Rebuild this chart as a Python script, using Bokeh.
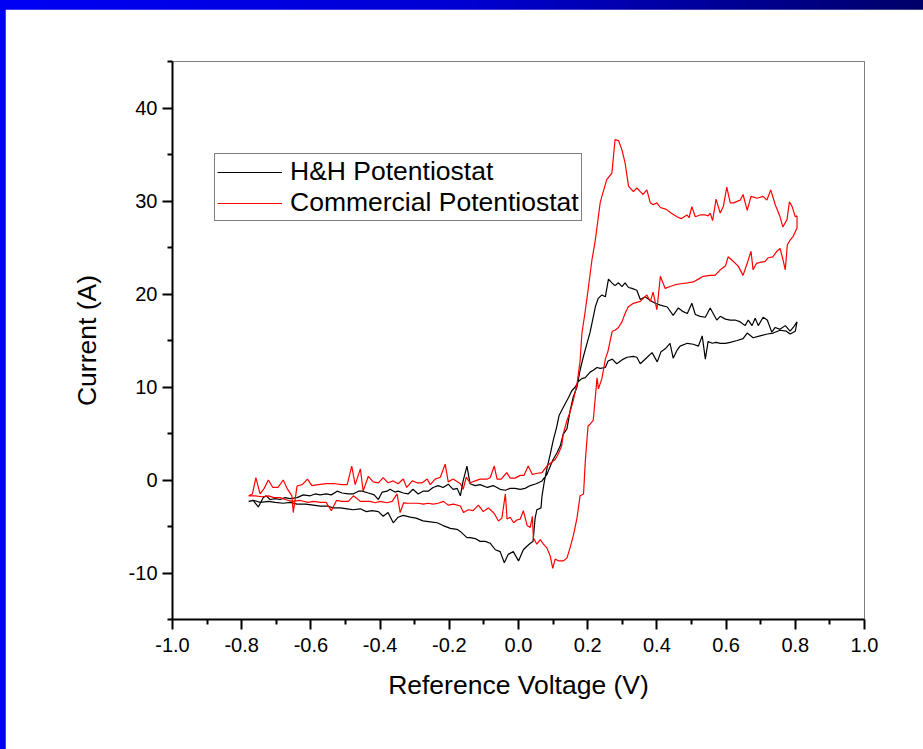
from bokeh.plotting import figure
from bokeh.models import FixedTicker, PrintfTickFormatter, Legend, LegendItem, Range1d
from bokeh.layouts import column
from bokeh.embed import file_html
from bokeh.resources import INLINE

# ---------------- data ----------------
x_ticks = [-1.0, -0.8, -0.6, -0.4, -0.2, 0.0, 0.2, 0.4, 0.6, 0.8, 1.0]
x_minor = [-0.9, -0.7, -0.5, -0.3, -0.1, 0.1, 0.3, 0.5, 0.7, 0.9]
y_ticks = [-10, 0, 10, 20, 30, 40]
y_minor = [-15, -5, 5, 15, 25, 35, 45]

series_names = ["H&H Potentiostat", "Commercial Potentiostat"]

# H&H potentiostat, forward sweep (V, A)
hh_fwd_v = [-0.780, -0.767, -0.752, -0.738, -0.729, -0.718, -0.703, -0.689, -0.675, -0.660,
            -0.640, -0.622, -0.602, -0.588, -0.573, -0.556, -0.541, -0.524, -0.510, -0.492,
            -0.478, -0.463, -0.452, -0.434, -0.417, -0.405, -0.394, -0.380, -0.371, -0.357,
            -0.348, -0.333, -0.319, -0.305, -0.290, -0.276, -0.261, -0.247, -0.232, -0.218,
            -0.203, -0.189, -0.177, -0.168, -0.160, -0.149, -0.140, -0.125, -0.111, -0.090,
            -0.073, -0.053, -0.038, -0.024, -0.010, 0.005, 0.019, 0.034, 0.051, 0.068,
            0.082, 0.092, 0.100, 0.111, 0.121, 0.129, 0.140, 0.149, 0.158, 0.169,
            0.178, 0.187, 0.198, 0.207, 0.222, 0.230, 0.241, 0.251, 0.260, 0.270,
            0.279, 0.289, 0.299, 0.308, 0.318, 0.328, 0.342, 0.352, 0.366, 0.381,
            0.395, 0.410, 0.430, 0.447, 0.462, 0.476, 0.488, 0.501, 0.511, 0.525,
            0.540, 0.554, 0.573, 0.583, 0.598, 0.612, 0.626, 0.641, 0.655, 0.664,
            0.675, 0.684, 0.693, 0.707, 0.719, 0.732, 0.742, 0.756, 0.771, 0.785,
            0.794, 0.805]
hh_fwd_i = [-2.3, -2.2, -2.9, -1.9, -1.7, -2.1, -2.0, -2.1, -1.9, -2.0,
            -1.9, -1.6, -1.7, -1.5, -1.6, -1.5, -1.6, -1.2, -1.4, -1.5,
            -1.5, -1.2, -1.2, -1.4, -1.6, -2.1, -1.3, -1.2, -1.0, -1.3,
            -1.2, -1.4, -1.5, -1.0, -1.5, -1.2, -1.2, -0.8, -0.6, -0.8,
            -0.45, -1.0, -0.9, -1.7, -0.1, 1.5, -0.4, -0.6, -0.5, -0.8,
            -0.6, -1.0, -1.1, -0.9, -0.9, -1.0, -0.9, -0.6, -0.4, -0.1,
            0.6, 1.5, 2.2, 2.9, 3.7, 4.9, 5.5, 7.4, 8.9, 10.0,
            11.8, 13.2, 14.7, 15.9, 18.6, 19.5, 19.9, 19.7, 21.6, 21.2,
            20.9, 21.2, 20.8, 21.2, 20.7, 20.6, 20.4, 19.4, 19.7, 19.3,
            19.0, 18.8, 18.6, 17.7, 18.5, 18.1, 17.9, 19.0, 17.8, 17.6,
            17.5, 18.5, 17.2, 17.6, 17.3, 17.2, 17.2, 17.0, 16.6, 17.2,
            16.6, 17.4, 16.6, 17.5, 17.2, 15.9, 16.4, 16.2, 16.6, 16.0,
            16.4, 17.0]

# H&H potentiostat, reverse sweep
hh_rev_v = [0.800, 0.785, 0.774, 0.756, 0.736, 0.719, 0.698, 0.678, 0.661, 0.649,
            0.632, 0.612, 0.598, 0.583, 0.571, 0.560, 0.548, 0.540, 0.531, 0.520,
            0.505, 0.488, 0.467, 0.459, 0.447, 0.438, 0.424, 0.412, 0.401, 0.386,
            0.372, 0.352, 0.342, 0.332, 0.314, 0.303, 0.284, 0.271, 0.259, 0.251,
            0.236, 0.227, 0.216, 0.207, 0.193, 0.183, 0.173, 0.164, 0.154, 0.145,
            0.135, 0.125, 0.117, 0.111, 0.100, 0.092, 0.082, 0.074, 0.068, 0.065,
            0.053, 0.048, 0.042, 0.034, 0.022, 0.014, 0.000, -0.015, -0.030, -0.041,
            -0.053, -0.067, -0.082, -0.096, -0.111, -0.125, -0.140, -0.149, -0.166, -0.178,
            -0.197, -0.218, -0.235, -0.255, -0.276, -0.296, -0.313, -0.333, -0.348, -0.362,
            -0.377, -0.391, -0.405, -0.423, -0.440, -0.457, -0.478, -0.495, -0.515, -0.535,
            -0.553, -0.573, -0.593, -0.616, -0.640, -0.660, -0.680, -0.703, -0.723, -0.746,
            -0.764, -0.780]
hh_rev_i = [16.0, 15.7, 16.0, 16.1, 15.8, 15.7, 15.5, 15.3, 15.8, 15.2,
            15.0, 14.8, 14.7, 14.7, 14.8, 14.7, 14.9, 13.0, 15.5, 14.4,
            14.6, 14.7, 14.4, 14.0, 13.1, 14.7, 14.1, 13.8, 12.7, 13.7,
            13.2, 12.5, 13.2, 13.3, 13.2, 13.0, 12.5, 13.0, 12.8, 12.1,
            12.0, 12.1, 11.8, 11.6, 11.0, 10.9, 10.6, 10.0, 9.6, 8.9,
            8.2, 7.5, 6.9, 5.8, 4.2, 2.8, 1.2, -0.3, -1.7, -3.0,
            -3.2, -4.1, -6.6, -6.8, -7.2, -7.5, -8.7, -7.7, -8.0, -8.9,
            -7.7, -7.5, -6.8, -6.6, -6.6, -6.3, -6.2, -6.2, -5.6, -5.3,
            -5.2, -4.9, -4.6, -4.5, -4.4, -4.1, -4.0, -3.8, -4.0, -4.6,
            -3.5, -3.9, -3.4, -3.3, -3.4, -3.1, -3.2, -3.1, -3.0, -3.0,
            -2.8, -2.8, -2.7, -2.6, -2.6, -2.4, -2.5, -2.4, -2.3, -2.4,
            -2.2, -2.3]

# Commercial potentiostat, forward sweep
com_fwd_v = [-0.780, -0.769, -0.759, -0.747, -0.735, -0.723, -0.710, -0.695, -0.680, -0.669,
             -0.655, -0.651, -0.640, -0.625, -0.610, -0.597, -0.579, -0.556, -0.530, -0.510,
             -0.495, -0.482, -0.472, -0.457, -0.449, -0.434, -0.420, -0.405, -0.391, -0.377,
             -0.362, -0.348, -0.333, -0.323, -0.307, -0.293, -0.278, -0.264, -0.255, -0.241,
             -0.226, -0.212, -0.203, -0.189, -0.168, -0.160, -0.151, -0.140, -0.125, -0.111,
             -0.090, -0.082, -0.070, -0.062, -0.050, -0.034, -0.024, -0.010, 0.005, 0.016,
             0.028, 0.040, 0.051, 0.068, 0.082, 0.092, 0.106, 0.115, 0.125, 0.129,
             0.140, 0.149, 0.158, 0.169, 0.178, 0.183, 0.193, 0.201, 0.212, 0.222,
             0.236, 0.241, 0.255, 0.270, 0.279, 0.289, 0.299, 0.308, 0.318, 0.332,
             0.342, 0.352, 0.360, 0.371, 0.381, 0.389, 0.400, 0.410, 0.427, 0.441,
             0.458, 0.470, 0.487, 0.493, 0.501, 0.511, 0.525, 0.540, 0.548, 0.554,
             0.561, 0.571, 0.583, 0.592, 0.602, 0.612, 0.621, 0.641, 0.649, 0.661,
             0.672, 0.690, 0.707, 0.718, 0.729, 0.742, 0.756, 0.764, 0.776, 0.783,
             0.791, 0.800, 0.805]
com_fwd_i = [-1.7, -1.5, 0.25, -1.5, -0.9, 0.0, -0.8, -0.8, 0.0, -0.9,
             -1.7, -3.5, -0.65, -0.5, 0.1, -0.6, -0.5, -0.4, -0.4, -0.5,
             -0.5, 1.5, -0.5, 1.2, -1.2, 0.4, -0.2, -0.3, 0.25, -0.3,
             -0.1, -0.4, 0.1, -0.8, -0.1, -0.3, -0.3, 0.1, -0.5, 0.1,
             0.3, 1.7, -0.2, 0.1, -0.4, -1.0, 0.3, -0.3, -0.1, 0.1,
             0.1, 0.25, 1.5, 0.1, 0.1, 0.8, 0.2, 0.2, 0.5, 0.5,
             1.5, 0.6, 0.7, 0.8, 1.5, 1.8, 2.2, 2.8, 3.7, 4.9,
             6.4, 7.3, 8.5, 10.3, 12.8, 15.7, 18.2, 20.4, 23.6, 25.8,
             29.8, 30.5, 32.3, 33.0, 36.6, 36.5, 35.5, 34.1, 31.6, 31.0,
             31.4, 31.0, 30.7, 31.2, 29.8, 29.6, 29.8, 29.3, 29.1, 28.7,
             28.3, 28.1, 28.5, 28.2, 29.4, 28.3, 28.5, 28.5, 28.4, 28.7,
             27.9, 30.2, 28.7, 29.4, 31.5, 29.8, 29.8, 30.1, 30.7, 29.0,
             30.5, 30.3, 30.5, 30.1, 31.2, 29.6, 28.3, 27.2, 28.0, 29.9,
             29.4, 28.3, 28.4]

# Commercial potentiostat, reverse sweep
com_rev_v = [0.805, 0.794, 0.785, 0.777, 0.771, 0.765, 0.756, 0.747, 0.735, 0.722,
             0.713, 0.698, 0.688, 0.678, 0.672, 0.661, 0.649, 0.635, 0.621, 0.606,
             0.598, 0.583, 0.568, 0.554, 0.534, 0.520, 0.505, 0.488, 0.470, 0.453,
             0.438, 0.424, 0.410, 0.400, 0.389, 0.381, 0.371, 0.360, 0.352, 0.332,
             0.317, 0.308, 0.299, 0.289, 0.279, 0.271, 0.265, 0.259, 0.251, 0.241,
             0.231, 0.227, 0.216, 0.207, 0.201, 0.193, 0.188, 0.178, 0.169, 0.159,
             0.149, 0.140, 0.129, 0.116, 0.106, 0.099, 0.092, 0.082, 0.072, 0.063,
             0.053, 0.043, 0.040, 0.034, 0.025, 0.014, 0.005, -0.005, -0.014, -0.024,
             -0.033, -0.038, -0.048, -0.058, -0.070, -0.087, -0.102, -0.116, -0.131, -0.145,
             -0.159, -0.168, -0.188, -0.203, -0.217, -0.232, -0.247, -0.261, -0.275, -0.290,
             -0.304, -0.319, -0.332, -0.342, -0.351, -0.365, -0.380, -0.400, -0.414, -0.429,
             -0.443, -0.457, -0.477, -0.492, -0.510, -0.526, -0.541, -0.556, -0.573, -0.592,
             -0.608, -0.631, -0.654, -0.675, -0.689, -0.706, -0.723, -0.741, -0.761, -0.780]
com_rev_i = [27.1, 26.2, 25.8, 25.3, 22.6, 23.6, 24.9, 24.6, 24.0, 23.9,
             23.5, 23.4, 23.3, 22.6, 24.6, 23.3, 22.0, 23.0, 23.5, 24.0,
             23.0, 22.6, 22.0, 22.0, 21.9, 21.6, 21.3, 21.2, 21.1, 21.0,
             20.8, 20.6, 21.9, 18.3, 20.2, 19.2, 19.9, 19.5, 19.2, 19.0,
             18.6, 17.9, 17.0, 16.4, 16.1, 16.0, 15.0, 13.9, 13.0, 10.9,
             9.8, 11.0, 6.4, 6.0, 5.8, 2.0, -1.5, -1.7, -4.1, -5.9,
             -7.3, -8.4, -8.7, -8.7, -8.5, -9.5, -8.2, -7.3, -6.9, -6.4,
             -6.9, -6.2, -3.9, -5.1, -4.9, -3.3, -4.2, -4.3, -4.6, -4.0,
             -4.2, -1.5, -4.1, -4.4, -3.6, -3.0, -3.4, -2.7, -3.3, -3.2,
             -3.5, -2.8, -2.6, -2.7, -2.3, -2.5, -2.6, -2.5, -2.6, -2.5,
             -2.5, -2.5, -2.45, -3.5, -1.5, -2.3, -2.45, -2.3, -2.45, -2.3,
             -2.3, -2.3, -1.7, -2.3, -2.3, -2.2, -3.3, -2.4, -2.4, -2.3,
             -2.4, -2.2, -2.3, -2.1, -1.9, -1.9, -1.7, -1.8, -1.7, -1.7]

hh_v = hh_fwd_v + hh_rev_v
hh_i = hh_fwd_i + hh_rev_i
com_v = com_fwd_v + com_rev_v
com_i = com_fwd_i + com_rev_i

# ---------------- figure ----------------
FONT = "Liberation Sans"

p = figure(width=918, height=740, output_backend="svg", toolbar_location=None,
           x_range=Range1d(-1.0, 1.0), y_range=Range1d(-15, 45),
           min_border_left=167, min_border_right=59, min_border_top=52, min_border_bottom=130,
           margin=(9, 0, 0, 5))
p.background_fill_color = "white"
p.border_fill_color = "white"
p.outline_line_color = "#7f7f7f"
p.outline_line_width = 1
p.grid.visible = False

r_hh = p.line(hh_v, hh_i, line_color="black", line_width=1.2)
r_com = p.line(com_v, com_i, line_color="#ff0000", line_width=1.2)

p.xaxis.ticker = FixedTicker(ticks=x_ticks, minor_ticks=x_minor)
p.yaxis.ticker = FixedTicker(ticks=y_ticks, minor_ticks=y_minor)
p.xaxis.formatter = PrintfTickFormatter(format="%.1f")
p.yaxis.formatter = PrintfTickFormatter(format="%d")
p.xaxis.axis_label = "Reference Voltage (V)"
p.yaxis.axis_label = "Current (A)"

for ax in (p.xaxis[0], p.yaxis[0]):
    ax.axis_line_width = 2
    ax.axis_line_color = "black"
    ax.major_tick_line_width = 2
    ax.minor_tick_line_width = 2
    ax.major_tick_line_color = "black"
    ax.minor_tick_line_color = "black"
    ax.major_tick_out = 10
    ax.major_tick_in = 0
    ax.minor_tick_out = 5
    ax.minor_tick_in = 0
    ax.major_label_text_font = FONT
    ax.major_label_text_font_size = "20px"
    ax.major_label_text_color = "black"
    ax.axis_label_text_font = FONT
    ax.axis_label_text_font_size = "26.5px"
    ax.axis_label_text_font_style = "normal"
    ax.axis_label_text_color = "black"

p.xaxis.major_label_standoff = 8
p.yaxis.major_label_standoff = 5
p.xaxis.axis_label_standoff = 15
p.yaxis.axis_label_standoff = 24

legend = Legend(items=[LegendItem(label=series_names[0], renderers=[r_hh]),
                       LegendItem(label=series_names[1], renderers=[r_com])],
                location=(42, 398))
legend.border_line_color = "black"
legend.border_line_width = 1
legend.background_fill_color = "white"
legend.background_fill_alpha = 1.0
legend.label_text_font = FONT
legend.label_text_font_size = "26.5px"
legend.label_text_color = "black"
legend.glyph_width = 65
legend.glyph_height = 26
legend.label_height = 26
legend.label_standoff = 8
legend.padding = 2
legend.spacing = 0
legend.margin = 0
p.add_layout(legend)

layout = column(p, width=923, height=749,
                styles={"background": "linear-gradient(to right, #0000f5 0%, #0000d2 50%, #000068 100%)"})

open("out.html", "w").write(file_html(layout, INLINE))
